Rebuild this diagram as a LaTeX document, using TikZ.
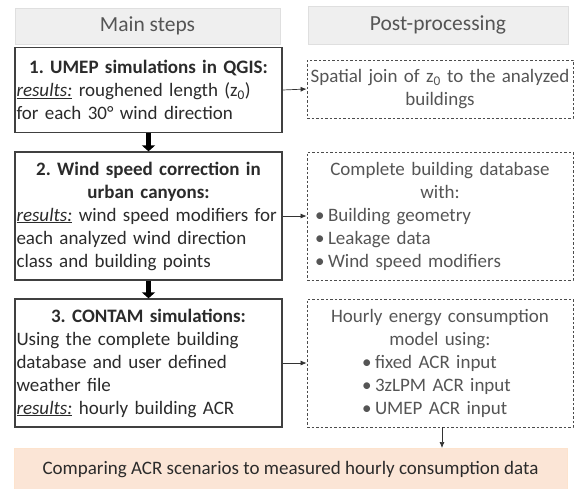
\documentclass[tikz,border=0pt]{standalone}
\usepackage{fontspec}
\setmainfont{Carlito}
\usetikzlibrary{arrows.meta}
\frenchspacing
\definecolor{txtmain}{HTML}{2B2B2B}
\definecolor{txtsub}{HTML}{555555}
\definecolor{peach}{HTML}{FBE5D6}
\definecolor{hdrfill}{HTML}{EFEFEF}
\newcommand{\res}{\underline{\textit{results:}}}
\newcommand{\bul}{\makebox[13pt][l]{•}}
\newcommand{\cln}[1]{\makebox[\linewidth]{#1}}
\tikzset{
  hdr/.style={draw=gray!25, fill=hdrfill, text=txtsub, font=\fontsize{21.5}{24}\selectfont, inner sep=0pt},
  mainbox/.style={draw=black!75, line width=1.3pt, fill=white, text=txtmain, minimum width=267pt, text width=264pt, inner xsep=1.5pt, align=left, font=\fontsize{19}{23}\selectfont\frenchspacing},
  postbox/.style={draw=black!70, dashed, dash pattern=on 2.5pt off 2pt, line width=0.8pt, text=txtsub, minimum width=266pt, text width=262pt, inner xsep=2pt, align=left, font=\fontsize{19}{23}\selectfont},
  thinarr/.style={draw=black!80, line width=0.7pt, -{Latex[length=6pt,width=5pt]}},
  thickarr/.style={draw=black, line width=4.5pt, -{Triangle[length=6pt,width=13pt]}},
}
\begin{document}
\begin{tikzpicture}[x=1pt,y=-1pt]
\useasboundingbox (0,0) rectangle (575,488);
% headers
\node[hdr, minimum width=265pt, minimum height=36pt] (hmain) at (147.5,26) {Main steps};
\node[hdr, minimum width=260pt, minimum height=38pt] (hpost) at (438,25) {Post-processing};
% main boxes
\node[mainbox, minimum height=85pt] (m1) at (148.5,90) {%
\cln{\bfseries 1. UMEP simulations in QGIS:}\\
\res{} roughened length (z\textsubscript{0})\\
for each 30° wind direction};
\node[mainbox, minimum height=128pt] (m2) at (148.5,216) {%
\cln{\bfseries 2. Wind speed correction in}\\
\cln{\bfseries urban canyons:}\\
\res{} wind speed modifiers for\\
each analyzed wind direction\\
class and building points};
\node[mainbox, minimum height=128pt] (m3) at (148.5,363) {%
\cln{\bfseries 3. CONTAM simulations:}\\
Using the complete building\\
database and user defined\\
weather file\\
\res{} hourly building ACR};
% post-processing boxes
\node[postbox, minimum height=58pt] (p1) at (440,89) {%
\cln{Spatial join of z\textsubscript{0} to the analyzed}\\
\cln{buildings}};
\node[postbox, minimum height=128pt] (p2) at (440,216) {%
\cln{Complete building database}\\
\cln{with:}\\
\hspace*{6pt}\bul Building geometry\\
\hspace*{6pt}\bul Leakage data\\
\hspace*{6pt}\bul Wind speed modifiers};
\node[postbox, minimum height=128pt] (p3) at (440,363) {%
\cln{Hourly energy consumption}\\
\cln{model using:}\\
\hspace*{53pt}\bul fixed ACR input\\
\hspace*{53pt}\bul 3zLPM ACR input\\
\hspace*{53pt}\bul UMEP ACR input};
% comparison box
\node[fill=peach, draw=peach!80!orange!60, minimum width=553pt, minimum height=44pt, text=txtmain, font=\fontsize{19}{23}\selectfont] (cmp) at (290.5,470) {Comparing ACR scenarios to measured hourly consumption data};
% connectors
\draw[thickarr] (m1.south) -- (m2.north);
\draw[thickarr] (m2.south) -- (m3.north);
\draw[thinarr] (m1.east) -- (p1.west);
\draw[thinarr] (m2.east) -- (p2.west);
\draw[thinarr] (m3.east) -- (p3.west);
\coordinate (p3b) at (442,427);
\draw[thinarr] (p3b) -- (442,448);
\end{tikzpicture}
\end{document}
